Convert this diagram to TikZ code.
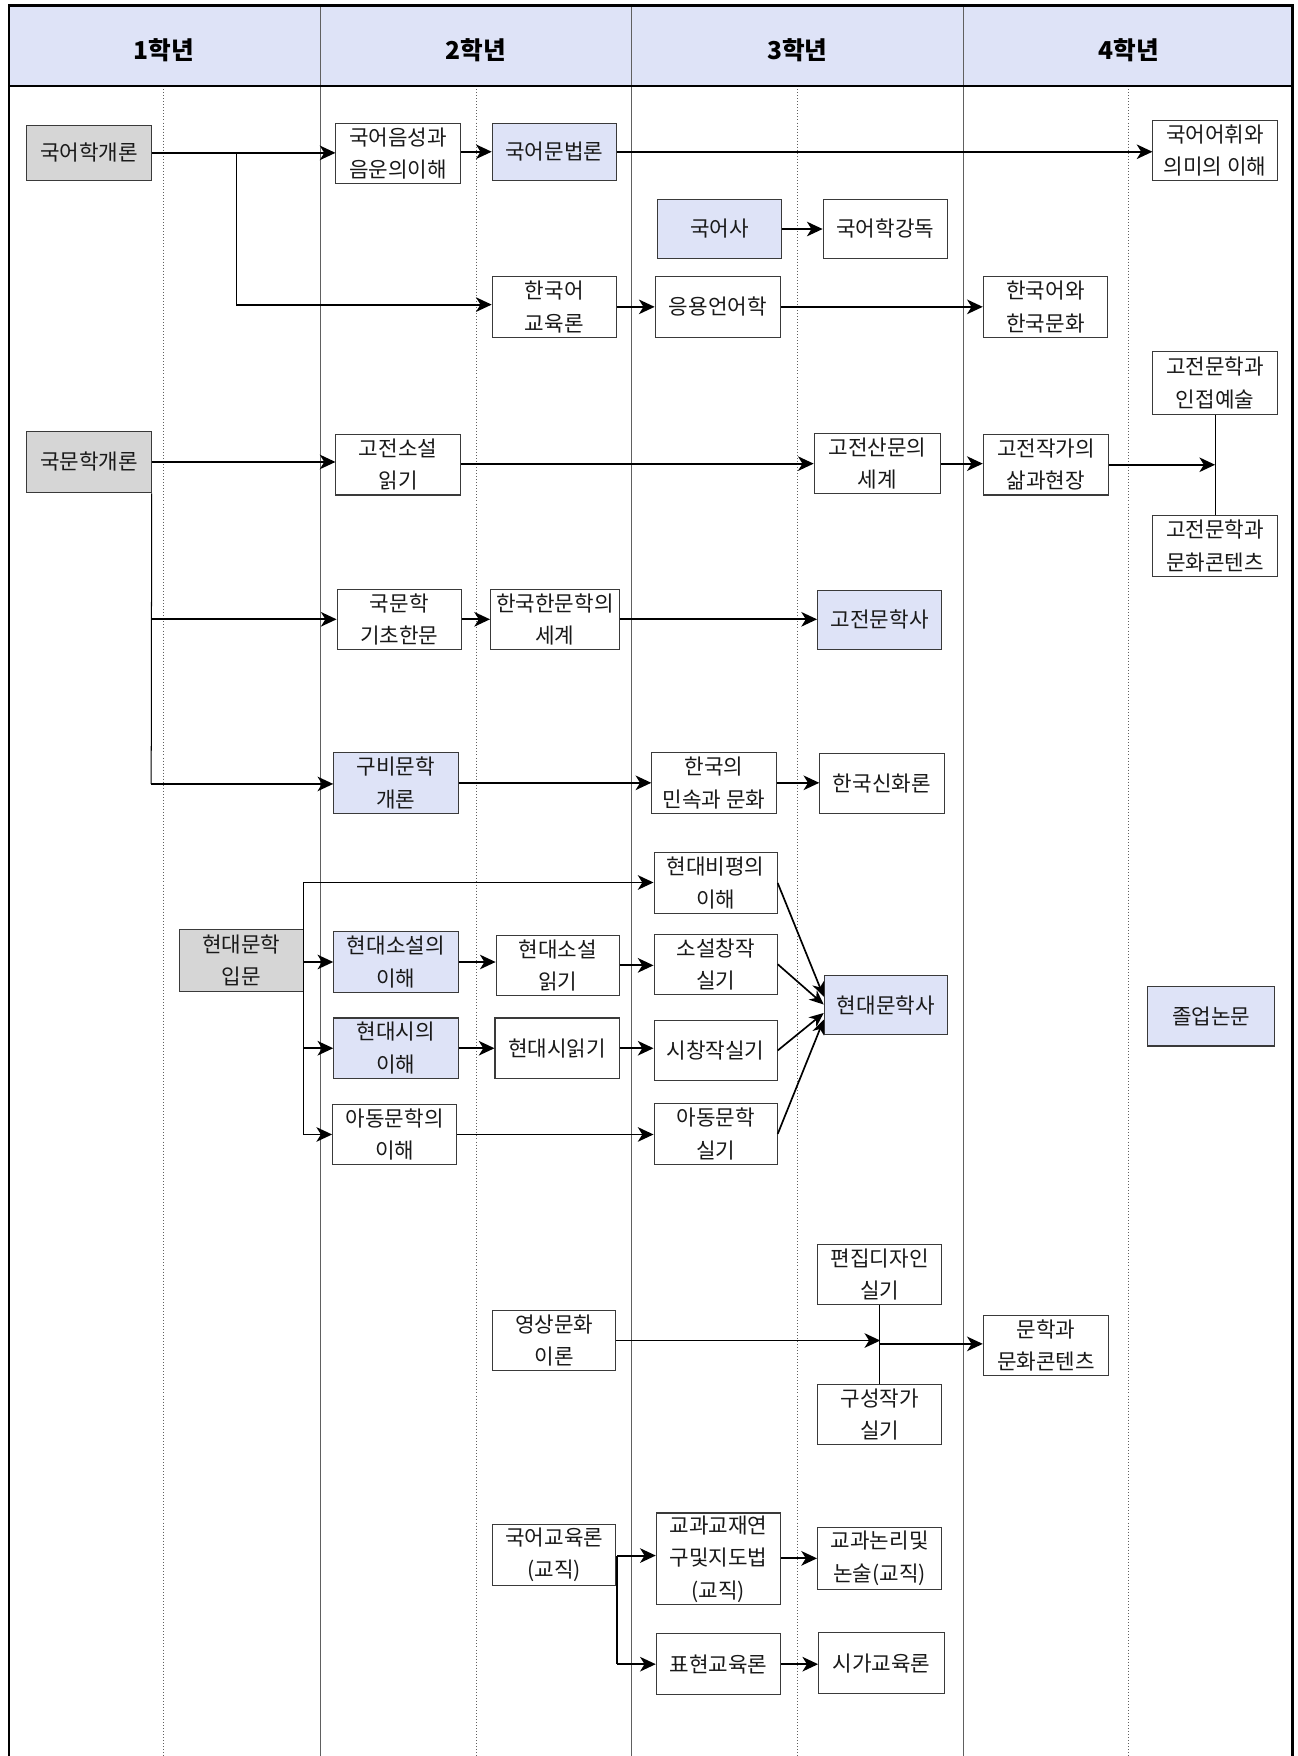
\documentclass[tikz,border=0pt]{standalone}
\usepackage{fontspec}
\setmainfont{Noto Sans CJK KR}
\usetikzlibrary{arrows.meta}
\definecolor{lav}{HTML}{DEE3F7}
\definecolor{gbox}{HTML}{D6D6D6}
\definecolor{bord}{HTML}{3A3A3A}
\definecolor{colline}{HTML}{606060}
\tikzset{
  course/.style={draw=bord, line width=0.9pt, fill=white, inner sep=0pt,
    minimum width=111pt, minimum height=54pt, align=center,
    font=\fontsize{19}{29}\selectfont, text=black!90},
  lavbox/.style={course, fill=lav},
  graybox/.style={course, fill=gbox},
  arr/.style={line width=1.7pt, -{Stealth[length=14pt,width=13pt,inset=4pt]}},
  farr/.style={line width=1.5pt, -{Stealth[length=13pt,width=11pt,inset=4pt]}},
  link/.style={line width=0.9pt},
  hdrtext/.style={font=\fontsize{22}{26}\selectfont\bfseries, text=black},
}
\begin{document}
\begin{tikzpicture}[x=1pt,y=-1pt]
\useasboundingbox (0,0) rectangle (1159,1568);
% header
\fill[lav] (8,5) rectangle (1154,77);
% column lines
\foreach \x in {286,564,860} \draw[colline, line width=0.8pt] (\x,5) -- (\x,1568);
\foreach \x in {146,425,712,1008} \draw[colline, line width=0.7pt, dotted] (\x,77) -- (\x,1568);
\draw[line width=1.8pt] (8,77) -- (1154,77);
\draw[line width=2.6pt] (8,1568) -- (8,5) -- (1154,5) -- (1154,1568);
\node[hdrtext] (h1) at (146,45) {1학년};
\node[hdrtext] (h2) at (425,45) {2학년};
\node[hdrtext] (h3) at (712,45) {3학년};
\node[hdrtext] (h4) at (1008,45) {4학년};

% nodes
\node[graybox, minimum height=49pt] (n1) at (79.5,136.5) {국어학개론};
\node[course] (n2) at (355.5,137) {국어음성과\\음운의이해};
\node[lavbox, minimum height=51pt] (n3) at (495,135.5) {국어문법론};
\node[course, minimum height=53pt] (n4) at (1085,134.5) {국어어휘와\\의미의 이해};
\node[lavbox, minimum height=53pt] (n5) at (642.5,204.5) {국어사};
\node[course, minimum height=53pt] (n6) at (790.5,204.5) {국어학강독};
\node[course] (n7) at (495,274) {한국어\\교육론};
\node[course, minimum width=112pt] (n8) at (641,274) {응용언어학};
\node[course] (n9) at (933.5,274) {한국어와\\한국문화};
\node[course, minimum height=56pt] (n10) at (1085,342) {고전문학과\\인접예술};
\node[graybox, minimum height=55pt] (n11) at (79.5,412.5) {국문학개론};
\node[course] (n12) at (355.5,415) {고전소설\\읽기};
\node[course, minimum width=113pt] (n13) at (783.5,414) {고전산문의\\세계};
\node[course, minimum width=112pt] (n14) at (934,415) {고전작가의\\삶과현장};
\node[course, minimum height=55pt] (n15) at (1085,487.5) {고전문학과\\문화콘텐츠};
\node[course] (n16) at (356.5,553) {국문학\\기초한문};
\node[course, minimum width=115pt] (n17) at (495.5,553) {한국한문학의\\세계};
\node[lavbox, minimum height=53pt] (n18) at (785.5,553.5) {고전문학사};
\node[lavbox] (n19) at (353.5,699) {구비문학\\개론};
\node[course] (n20) at (637.5,699) {한국의\\민속과 문화};
\node[course, minimum height=53pt] (n21) at (787.5,699.5) {한국신화론};
\node[course, minimum width=110pt, minimum height=55pt] (n22) at (639,788.5) {현대비평의\\이해};
\node[graybox, minimum height=55pt] (n23) at (215.5,857.5) {현대문학\\입문};
\node[lavbox] (n24) at (353.5,859) {현대소설의\\이해};
\node[course, minimum width=110pt] (n25) at (498,862) {현대소설\\읽기};
\node[course, minimum width=110pt] (n26) at (639,861) {소설창작\\실기};
\node[lavbox, minimum width=110pt, minimum height=53pt] (n27) at (791,897.5) {현대문학사};
\node[lavbox] (n28) at (353.5,936) {현대시의\\이해};
\node[course] (n29) at (497.5,936) {현대시읽기};
\node[course, minimum width=110pt] (n30) at (639,938) {시창작실기};
\node[course] (n31) at (352.5,1013) {아동문학의\\이해};
\node[course, minimum width=110pt, minimum height=55pt] (n32) at (639,1012.5) {아동문학\\실기};
\node[lavbox, minimum width=113pt, minimum height=53pt] (n33) at (1081.5,907.5) {졸업논문};
\node[course] (n34) at (785.5,1138) {편집디자인\\실기};
\node[course, minimum width=110pt] (n35) at (495,1197) {영상문화\\이론};
\node[course, minimum width=112pt, minimum height=53pt] (n36) at (934,1201.5) {문학과\\문화콘텐츠};
\node[course] (n37) at (785.5,1263) {구성작가\\실기};
\node[course, minimum width=110pt, minimum height=55pt] (n38) at (495,1388.5) {국어교육론\\(교직)};
\node[course, minimum height=82pt] (n39) at (641.5,1392) {교과교재연\\구및지도법\\(교직)};
\node[course, minimum height=55pt] (n40) at (785.5,1391.5) {교과논리및\\논술(교직)};
\node[course] (n41) at (641.5,1486) {표현교육론};
\node[course, minimum width=112pt] (n42) at (787,1485) {시가교육론};

% connectors: 국어학
\draw[arr] (n1.east) -- (n1.east -| n2.west);
\coordinate (b1) at (211,136.5);
\coordinate (b1d) at (211,272);
\draw[link] (b1) -- (b1d);
\draw[arr] (b1d) -- (b1d -| n7.west);
\draw[arr] (n2.east |- n3.west) -- (n3.west);
\draw[arr] (n3.east) -- (n3.east -| n4.west);
\draw[arr] (n5.east) -- (n6.west);
\draw[arr] (n7.east) -- (n8.west);
\draw[arr] (n8.east) -- (n9.west);

% 고전
\draw[arr] (n11.east) -- (n11.east -| n12.west);
\draw[arr] (n12.east |- n13.west) -- (n13.west);
\draw[arr] (n13.east) -- (n13.east -| n14.west);
\coordinate (j1) at (1085,415);
\draw[link] (n10.south) -- (n15.north);
\draw[arr] (n14.east) -- (j1);

\coordinate (t1) at (n11.south east);
\coordinate (t1a) at (135,553);
\coordinate (t1b) at (135,700);
\draw[link] (t1) -- (t1b);
\draw[arr] (t1a) -- (t1a -| n16.west);
\draw[arr] (t1b) -- (t1b -| n19.west);
\draw[arr] (n16.east) -- (n17.west);
\draw[arr] (n17.east) -- (n17.east -| n18.west);
\draw[arr] (n19.east) -- (n19.east -| n20.west);
\draw[arr] (n20.east) -- (n20.east -| n21.west);

% 현대문학
\coordinate (t2a) at (271,788);
\coordinate (t2b) at (271,859);
\coordinate (t2c) at (271,936);
\coordinate (t2d) at (271,1013);
\draw[link] (t2a) -- (t2d);
\draw[arr] (t2a) -- (t2a -| n22.west);
\draw[arr] (t2b) -- (n24.west);
\draw[arr] (t2c) -- (n28.west);
\draw[arr] (t2d) -- (n31.west);
\draw[arr] (n24.east) -- (n24.east -| n25.west);
\draw[arr] (n25.east) -- (n25.east -| n26.west);
\draw[arr] (n28.east) -- (n28.east -| n29.west);
\draw[arr] (n29.east) -- (n29.east -| n30.west);
\draw[arr] (n31.east) -- (n31.east -| n32.west);
\draw[farr] (n22.east) -- ([yshift=7.5pt]n27.west);
\draw[farr] (n26.east) -- ([yshift=0.5pt]n27.west);
\draw[farr] (n30.east) -- ([yshift=-7pt]n27.west);
\draw[farr] (n32.east) -- ([yshift=-13pt]n27.west);

% 문화콘텐츠
\coordinate (j2) at (786,1197);
\coordinate (j2b) at (786,1200);
\draw[link] (n34.south) -- (n37.north);
\draw[arr] (n35.east) -- (j2);
\draw[arr] (j2b) -- (j2b -| n36.west);

% 교직
\coordinate (k1) at (551,1389);
\coordinate (k2) at (551,1486);
\draw[arr] (k1) -- (k1 -| n39.west);
\draw[line width=1.7pt] (k1) -- (k2);
\draw[arr] (k2) -- (n41.west);
\draw[arr] (n39.east |- n40.west) -- (n40.west);
\draw[arr] (n41.east) -- (n41.east -| n42.west);
\end{tikzpicture}
\end{document}
